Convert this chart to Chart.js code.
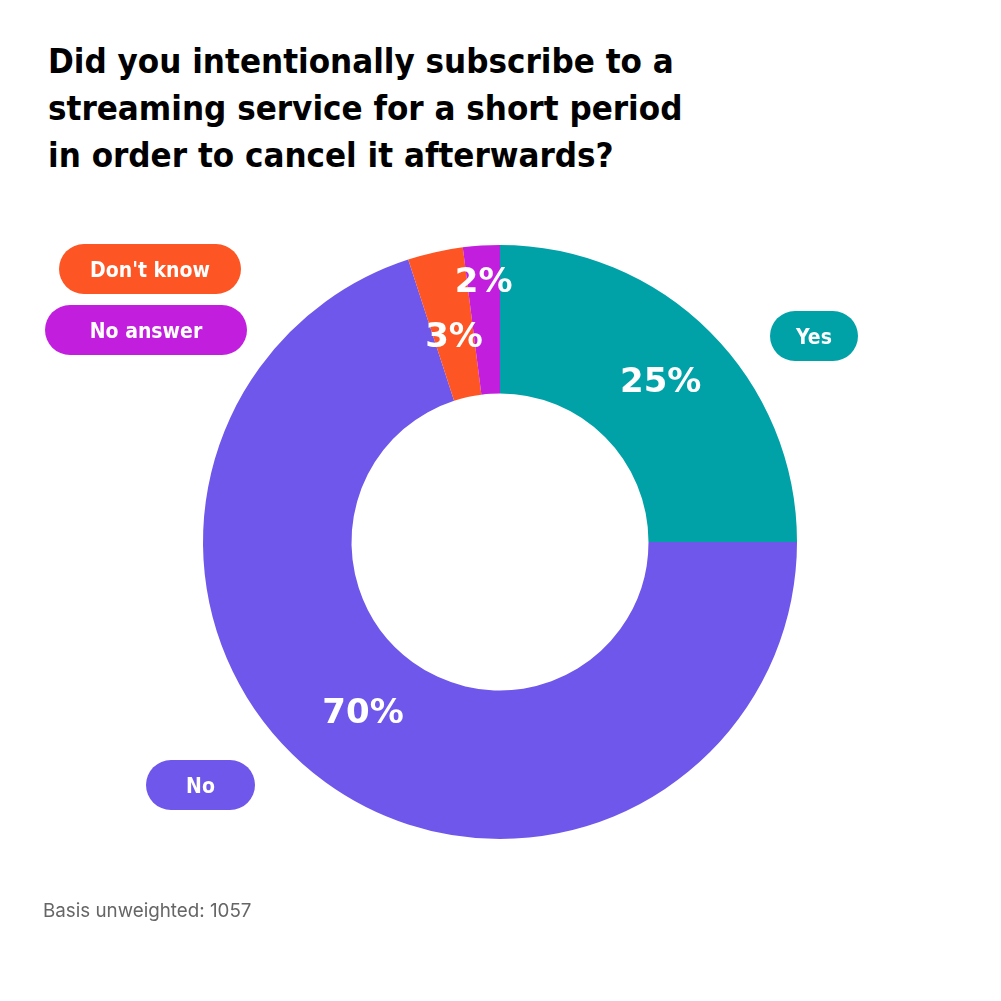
<!DOCTYPE html>
<html>
<head>
<meta charset="utf-8">
<script src="https://cdn.jsdelivr.net/npm/chart.js@4"></script>
<style>
  html, body { margin: 0; padding: 0; background: #fff; }
  #wrap { position: relative; width: 1001px; height: 1001px; }
  #title {
    position: absolute; left: 48px; top: 38px; margin: 0;
    font-family: "DejaVu Sans Condensed", "DejaVu Sans", sans-serif;
    font-weight: bold; font-size: 34.6px; line-height: 47px; color: #000;
  }
  #note {
    position: absolute; left: 43px; top: 899px;
    font-family: Inter, "Noto Sans", sans-serif; font-size: 18.8px; color: #666;
  }
  canvas { position: absolute; left: 0; top: 0; }
</style>
</head>
<body>
<div id="wrap">
  <h1 id="title">Did you intentionally subscribe to a<br>streaming service for a short period<br>in order to cancel it afterwards?</h1>
  <canvas id="chart" width="1001" height="1001"></canvas>
  <div id="note">Basis unweighted: 1057</div>
</div>
<script>
const categories = ["Yes", "No", "Don't know", "No answer"];
const shares = [25, 70, 3, 2];
const colors = ['#00A2A8', '#6E57EA', '#FD5523', '#C21EDE'];
// radial position of the % label, as fraction between inner (0) and outer (1) edge
const labelDepth = [0.53, 0.47, 0.42, 0.76];
// small angular nudge of the % label (radians)
const labelTurn = [0, 0.05, 0, 0];
// pill label boxes: left, top, width (layout)
const pillBox = [[770, 311, 88], [146, 760, 109], [59, 244, 182], [45, 305, 202]];

const labelPlugin = {
  id: 'sliceLabels',
  afterDatasetsDraw(chart) {
    const ctx = chart.ctx;
    const arcs = chart.getDatasetMeta(0).data;
    ctx.save();
    ctx.textAlign = 'center';
    ctx.textBaseline = 'middle';
    arcs.forEach((arc, i) => {
      const p = arc.getProps(['x', 'y', 'startAngle', 'endAngle', 'innerRadius', 'outerRadius'], true);
      const mid = (p.startAngle + p.endAngle) / 2 + labelTurn[i];
      const r = p.innerRadius + (p.outerRadius - p.innerRadius) * labelDepth[i];
      ctx.fillStyle = '#fff';
      ctx.font = 'bold 34px "DejaVu Sans", sans-serif';
      ctx.fillText(shares[i] + '%', p.x + Math.cos(mid) * r, p.y + Math.sin(mid) * r + 2);

      // pill label
      const [bx, by, w] = pillBox[i];
      const h = 50;
      ctx.fillStyle = colors[i];
      ctx.beginPath();
      ctx.roundRect(bx, by, w, h, h / 2);
      ctx.fill();
      ctx.fillStyle = '#fff';
      ctx.font = 'bold 21px "DejaVu Sans Condensed", "DejaVu Sans", sans-serif';
      ctx.fillText(categories[i], bx + w / 2, by + h / 2 + 3);
    });
    ctx.restore();
  }
};

new Chart(document.getElementById('chart').getContext('2d'), {
  type: 'doughnut',
  data: {
    labels: categories,
    datasets: [{
      data: shares,
      backgroundColor: colors,
      borderWidth: 0,
      hoverOffset: 0
    }]
  },
  options: {
    responsive: false,
    animation: false,
    cutout: '50%',
    layout: { padding: { left: 203, right: 204, top: 245, bottom: 162 } },
    plugins: {
      legend: { display: false },
      tooltip: { enabled: false }
    }
  },
  plugins: [labelPlugin]
});
</script>
</body>
</html>
